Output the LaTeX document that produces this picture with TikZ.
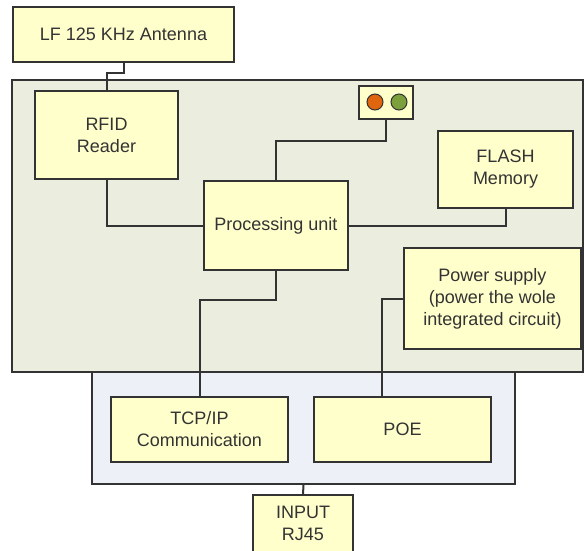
\documentclass[tikz,border=0pt]{standalone}
\usepackage{fontspec}
\setmainfont{Liberation Sans}
\usetikzlibrary{calc,shadows}
\definecolor{boxyellow}{HTML}{FFFFCC}
\definecolor{mainfill}{HTML}{EBEDDE}
\definecolor{lowerfill}{HTML}{EDF0F6}
\definecolor{edge}{HTML}{333333}
\definecolor{ledorange}{HTML}{E0650F}
\definecolor{ledgreen}{HTML}{7BA03C}
\tikzset{
  softshadow/.style={drop shadow={shadow xshift=1.2pt, shadow yshift=-1.2pt, opacity=0.25, fill=black}},
  blk/.style={draw=edge, line width=2pt, fill=boxyellow, inner sep=0pt, align=center,
    text=edge, font=\fontsize{18}{22}\selectfont, softshadow},
  panel/.style={draw=edge, line width=2pt, inner sep=0pt, softshadow},
  wire/.style={draw=edge, line width=2pt},
  led/.style={circle, draw=edge, line width=1pt, minimum size=16pt, inner sep=0pt}
}
\begin{document}
\begin{tikzpicture}[x=1pt,y=-1pt]
\useasboundingbox (0,0) rectangle (584,550);
% panels
\node[panel, fill=lowerfill, minimum width=423pt, minimum height=124pt] (lower) at (303.5,422) {};
\node[panel, fill=mainfill, minimum width=571pt, minimum height=292pt] (main) at (297.5,226) {};
% blocks
\node[blk, minimum width=221pt, minimum height=55pt] (ant) at (123.5,34.5) {LF 125 KHz Antenna};
\node[blk, minimum width=143pt, minimum height=88pt] (rfid) at (106.5,135) {RFID\\Reader};
\node[blk, minimum width=144pt, minimum height=89pt] (proc) at (276,225.5) {Processing unit};
\node[blk, minimum width=54pt, minimum height=33pt] (ledbox) at (386,102.5) {};
\node[led, fill=ledorange] (ledA) at (375,102) {};
\node[led, fill=ledgreen] (ledB) at (399,102) {};
\node[blk, minimum width=135pt, minimum height=77pt] (flash) at (505.5,169.5) {FLASH\\Memory};
\node[blk, minimum width=177pt, minimum height=101pt] (power) at (492.5,298.5) {Power supply\\(power the wole\\integrated circuit)};
\node[blk, minimum width=177pt, minimum height=65pt] (tcp) at (199.5,429.5) {TCP/IP\\Communication};
\node[blk, minimum width=177pt, minimum height=65pt] (poe) at (402.5,429.5) {POE};
\node[blk, minimum width=100pt, minimum height=57pt] (input) at (303,523.5) {INPUT\\RJ45};
% connectors
\draw[wire] (ant.south) -- ++(0,10) -| (rfid.north);
\draw[wire] (rfid.south) |- (proc.west);
\draw[wire] (ledbox.south) -- ++(0,21) -| (proc.north);
\draw[wire] (flash.south) |- (proc.east);
\draw[wire] (proc.south) -- ++(0,29) -| (tcp.north);
\draw[wire] (power.west) -| ([xshift=-20.5pt]poe.north);
\draw[wire] (lower.south) -- (input.north);
\end{tikzpicture}
\end{document}
